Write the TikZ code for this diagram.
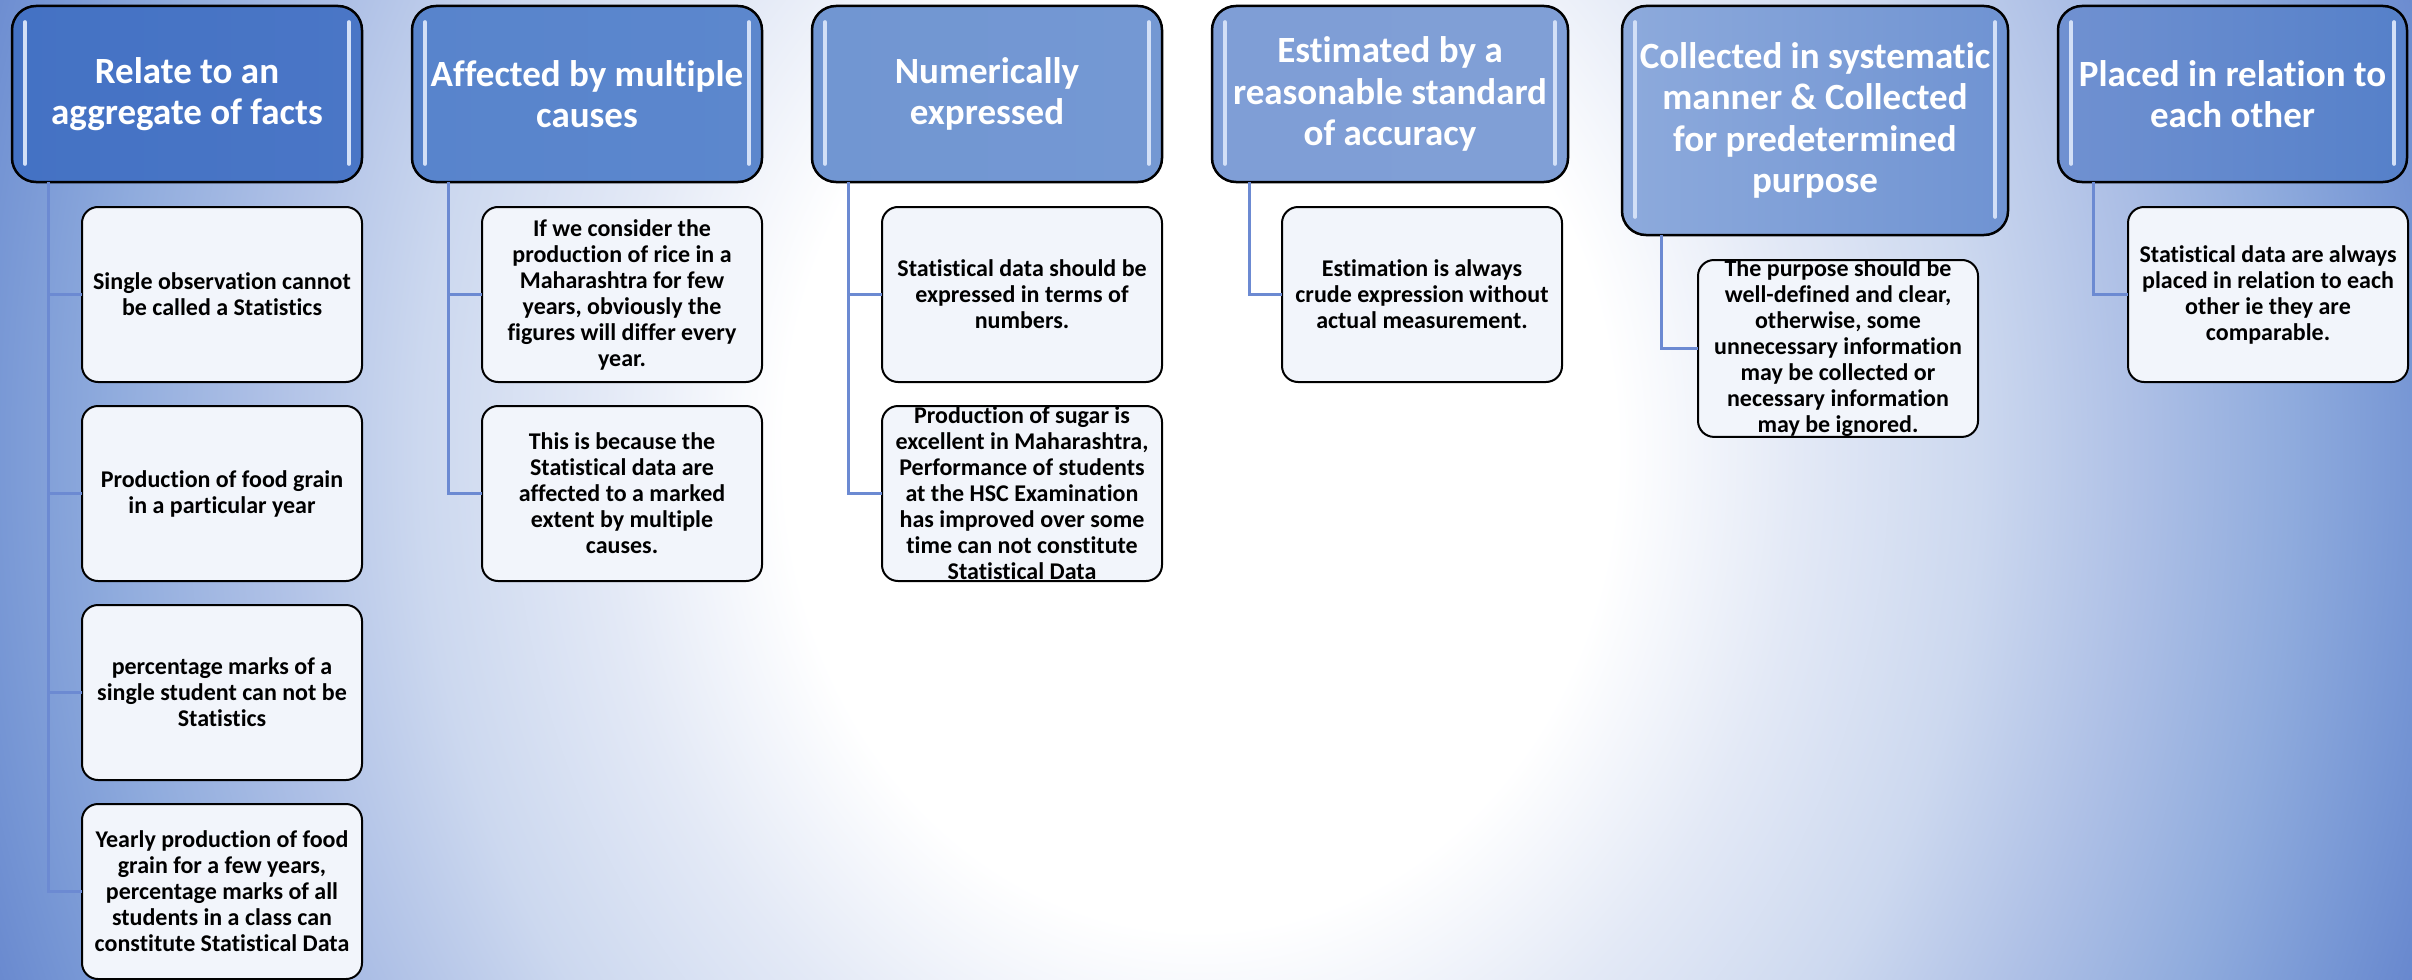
\documentclass[tikz,border=0pt]{standalone}
\usepackage{fontspec}
\setmainfont{Carlito}[Ligatures=NoCommon]
\usetikzlibrary{positioning}

% background glow
\definecolor{bgA}{HTML}{E3E9F6}
\definecolor{bgB}{HTML}{CCD8EF}
\definecolor{bgC}{HTML}{AEC0E6}
\definecolor{bgD}{HTML}{8FABDD}
\definecolor{bgE}{HTML}{7595D4}
\definecolor{bgblue}{HTML}{6787CE}
\definecolor{bgdeep}{HTML}{5F80CA}
\pgfdeclareradialshading{bgglow}{\pgfpointorigin}{color(0bp)=(white); color(8bp)=(white);
  color(11.5bp)=(bgA); color(15bp)=(bgB); color(18bp)=(bgC); color(21bp)=(bgD);
  color(23.5bp)=(bgE); color(25bp)=(bgblue); color(50bp)=(bgdeep)}

% header colours, left and right
\definecolor{aggL}{HTML}{4472C4}\definecolor{aggR}{HTML}{4A76C6}
\definecolor{causeL}{HTML}{5884CC}\definecolor{causeR}{HTML}{5C87CD}
\definecolor{numL}{HTML}{7196D2}\definecolor{numR}{HTML}{7498D3}
\definecolor{estL}{HTML}{7F9ED6}\definecolor{estR}{HTML}{809FD6}
\definecolor{collL}{HTML}{8DAADC}\definecolor{collR}{HTML}{6F93D2}
\definecolor{relL}{HTML}{7091D1}\definecolor{relR}{HTML}{5580C9}
\definecolor{glosscol}{HTML}{D3E0F7}
\definecolor{leaffill}{HTML}{F2F5FB}
\definecolor{linkblue}{HTML}{6C8AD2}

\begin{document}
\begin{tikzpicture}[
  head/.style 2 args={rectangle, draw=black, line width=1.25pt, rounded corners=12pt,
              left color=#1, right color=#2, text=white, align=center,
              inner sep=2pt, outer sep=0pt, minimum width=175pt, minimum height=88pt,
              font=\bfseries\fontsize{18.5}{20.75}\selectfont,
              path picture={
                \draw[gloss] ([xshift=6.5pt,yshift=-8pt]path picture bounding box.north west)
                  -- ([xshift=6.5pt,yshift=9pt]path picture bounding box.south west);
                \draw[gloss] ([xshift=-6.5pt,yshift=-8pt]path picture bounding box.north east)
                  -- ([xshift=-6.5pt,yshift=9pt]path picture bounding box.south east);
              }},
  gloss/.style={draw=glosscol, line width=1.8pt, line cap=round},
  leaf/.style={rectangle, draw=black, line width=1pt, rounded corners=8pt,
               fill=leaffill, text=black, align=center, inner xsep=2pt, inner ysep=0pt,
               outer sep=0pt, minimum width=140pt, minimum height=87.5pt,
               font=\bfseries\fontsize{12}{13}\selectfont},
  link/.style={draw=linkblue, line width=1.5pt},
  node distance=12pt
]
  % page and background
  \useasboundingbox (0,0) rectangle (1206pt,-489.5pt);
  \fill[bgdeep] (0,0) rectangle (1206pt,-489.5pt);
  \begin{scope}
    \clip (0,0) rectangle (1206pt,-489.5pt);
    \shade[shading=bgglow] (-50pt,525pt) rectangle (1250pt,-975pt);
  \end{scope}

  % headers
  \node[head={aggL}{aggR}, anchor=north west] (agg) at (6pt,-3pt) {Relate to an\\aggregate of facts};
  \node[head={causeL}{causeR}, right=25pt of agg.north east, anchor=north west] (cause) {Affected by multiple\\causes};
  \node[head={numL}{numR}, right=25pt of cause.north east, anchor=north west] (num) {Numerically\\expressed};
  \node[head={estL}{estR}, minimum width=178pt, right=25pt of num.north east, anchor=north west] (est) {Estimated by a\\reasonable standard\\of accuracy};
  \node[head={collL}{collR}, minimum width=193pt, minimum height=114.5pt, right=27pt of est.north east, anchor=north west] (coll) {Collected in systematic\\manner \& Collected\\for predetermined\\purpose};
  \node[head={relL}{relR}, minimum width=174.5pt, right=25pt of coll.north east, anchor=north west] (rel) {Placed in relation to\\each other};

  % points under each header
  \node[leaf, anchor=north west] (agg1) at ([shift={(35pt,-12.5pt)}]agg.south west) {Single observation cannot\\be called a Statistics};
  \node[leaf, below=of agg1] (agg2) {Production of food grain\\in a particular year};
  \node[leaf, below=of agg2] (agg3) {percentage marks of a\\single student can not be\\Statistics};
  \node[leaf, below=of agg3] (agg4) {Yearly production of food\\grain for a few years,\\percentage marks of all\\students in a class can\\constitute Statistical Data};

  \node[leaf, anchor=north west] (cause1) at ([shift={(35pt,-12.5pt)}]cause.south west) {If we consider the\\production of rice in a\\Maharashtra for few\\years, obviously the\\figures will differ every\\year.};
  \node[leaf, below=of cause1] (cause2) {This is because the\\Statistical data are\\affected to a marked\\extent by multiple\\causes.};

  \node[leaf, anchor=north west] (num1) at ([shift={(35pt,-12.5pt)}]num.south west) {Statistical data should be\\expressed in terms of\\numbers.};
  \node[leaf, below=of num1] (num2) {Production of sugar is\\excellent in Maharashtra,\\Performance of students\\at the HSC Examination\\has improved over some\\time can not constitute\\Statistical Data};

  \node[leaf, anchor=north west] (est1) at ([shift={(35pt,-12.5pt)}]est.south west) {Estimation is always\\crude expression without\\actual measurement.};

  \node[leaf, anchor=north west] (coll1) at ([shift={(38pt,-12.5pt)}]coll.south west) {The purpose should be\\well-defined and clear,\\otherwise, some\\unnecessary information\\may be collected or\\necessary information\\may be ignored.};

  \node[leaf, anchor=north west] (rel1) at ([shift={(35pt,-12.5pt)}]rel.south west) {Statistical data are always\\placed in relation to each\\other ie they are\\comparable.};

  % connectors
  \foreach \c in {agg1,agg2,agg3,agg4}
    \draw[link] ([xshift=18pt]agg.south west) |- (\c.west);
  \foreach \c in {cause1,cause2}
    \draw[link] ([xshift=18pt]cause.south west) |- (\c.west);
  \foreach \c in {num1,num2}
    \draw[link] ([xshift=18pt]num.south west) |- (\c.west);
  \draw[link] ([xshift=18.5pt]est.south west) |- (est1.west);
  \draw[link] ([xshift=19.5pt]coll.south west) |- (coll1.west);
  \draw[link] ([xshift=17.5pt]rel.south west) |- (rel1.west);
\end{tikzpicture}
\end{document}
